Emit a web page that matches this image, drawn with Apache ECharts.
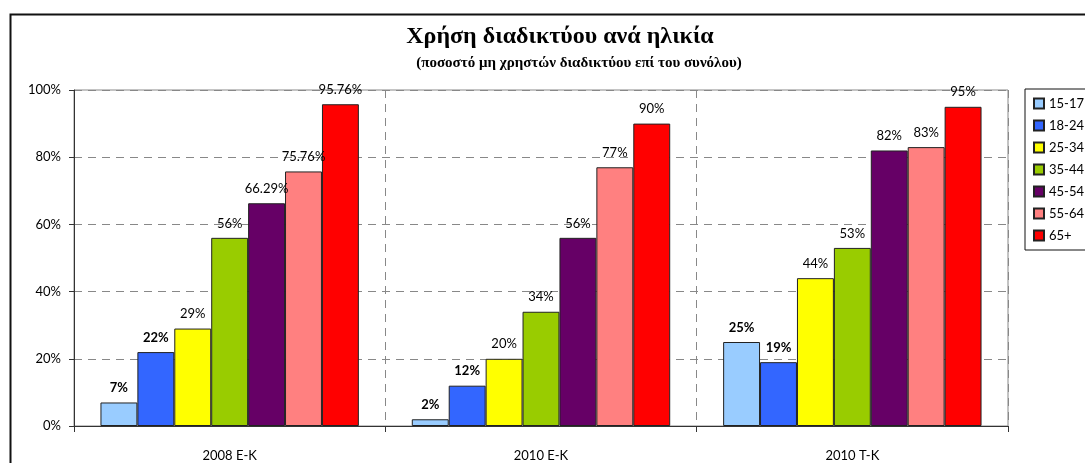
<!DOCTYPE html>
<html>
<head>
<meta charset="UTF-8">
<title>Χρήση διαδικτύου ανά ηλικία</title>
<style>
  * { margin: 0; padding: 0; }
  html, body { width: 1085px; height: 463px; background: #fff; overflow: hidden; }
  #main { width: 1085px; height: 463px; }
</style>
<script src="https://cdn.jsdelivr.net/npm/echarts@6/dist/echarts.min.js"></script>
</head>
<body>
<div id="main"></div>
<script>
// categories and age groups
var groups = ['2008 E-K', '2010 E-K', '2010 T-K'];
var ages = ['15-17', '18-24', '25-34', '35-44', '45-54', '55-64', '65+'];
var colors = ['#99CCFF', '#3366FF', '#FFFF00', '#99CC00', '#660066', '#FF8080', '#FF0000'];

// values per age group (percent), one entry per category
var v1517 = [7, 2, 25];
var v1824 = [22, 12, 19];
var v2534 = [29, 20, 44];
var v3544 = [56, 34, 53];
var v4554 = [66.29, 56, 82];
var v5564 = [75.76, 77, 83];
var v65 = [95.76, 90, 95];
var values = [v1517, v1824, v2534, v3544, v4554, v5564, v65];

var yTicks = [0, 20, 40, 60, 80, 100];

var font = 'Lato, "Noto Sans", sans-serif';
var serif = '"Liberation Serif", "DejaVu Serif", serif';

var series = ages.map(function (a, i) {
  return {
    name: a,
    type: 'bar',
    data: values[i],
    barGap: '0%',
    barCategoryGap: '17%',
    itemStyle: { color: colors[i], borderColor: '#222', borderWidth: 1 },
    label: {
      show: true,
      position: 'top',
      distance: 8,
      color: '#000',
      fontFamily: font,
      fontSize: 13,
      fontWeight: i < 2 ? 'bold' : 'normal',
      formatter: function (p) { return p.value + '%'; }
    }
  };
});

var myChart = echarts.init(document.getElementById('main'));
var option = {
  animation: false,
  backgroundColor: '#fff',
  title: [
    {
      text: 'Χρήση διαδικτύου ανά ηλικία',
      left: 555, top: 20, textAlign: 'center',
      textStyle: { fontFamily: serif, fontWeight: 'bold', fontSize: 24, color: '#000' }
    },
    {
      text: '(ποσοστό μη χρηστών διαδικτύου επί του συνόλου)',
      left: 574, top: 51, textAlign: 'center',
      textStyle: { fontFamily: serif, fontWeight: 'bold', fontSize: 15, color: '#000' }
    }
  ],
  graphic: [
    {
      type: 'rect', left: 8, top: 12, silent: true, z: -1,
      shape: { width: 1200, height: 600 },
      style: { fill: 'none', stroke: '#111', lineWidth: 2 }
    }
  ],
  legend: {
    orient: 'vertical',
    left: 1025, top: 89,
    data: ages,
    icon: 'rect',
    itemWidth: 10, itemHeight: 10,
    itemGap: 7,
    padding: [7, 40, 7, 8],
    borderColor: '#111', borderWidth: 1,
    textStyle: { fontFamily: font, fontSize: 13, color: '#000', lineHeight: 15 }
  },
  grid: {
    left: 74, top: 90, right: 77, bottom: 37,
    show: true, borderColor: '#888', borderWidth: 1
  },
  xAxis: {
    type: 'category',
    data: groups,
    axisLine: { lineStyle: { color: '#333', width: 1 } },
    axisTick: { show: true, length: 6, lineStyle: { color: '#333' } },
    axisLabel: { margin: 23, color: '#000', fontFamily: font, fontSize: 13 },
    splitLine: { show: true, lineStyle: { color: '#888', type: [8, 6] } }
  },
  yAxis: {
    type: 'value',
    min: yTicks[0], max: yTicks[yTicks.length - 1], interval: 20,
    axisLine: { show: true, lineStyle: { color: '#333' } },
    axisTick: { show: true, length: 5, lineStyle: { color: '#333' } },
    axisLabel: { margin: 13, color: '#000', fontFamily: font, fontSize: 13, formatter: '{value}%' },
    splitLine: { show: true, lineStyle: { color: '#888', type: [8, 6] } }
  },
  series: series
};
myChart.setOption(option);
</script>
</body>
</html>
